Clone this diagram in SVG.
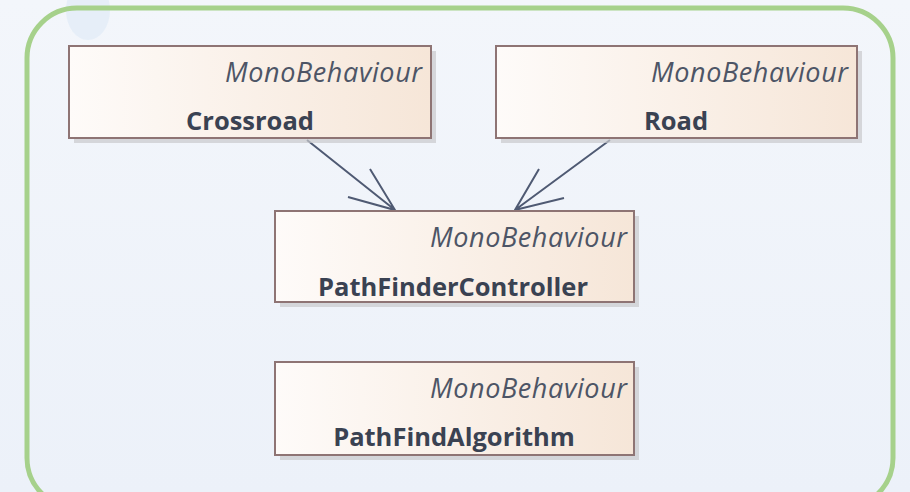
<svg xmlns="http://www.w3.org/2000/svg" width="910" height="492" viewBox="0 0 910 492">
<style>
.box{stroke:#8e7474;stroke-width:2;fill:url(#g)}
.sh{fill:#c9c9cc;opacity:0.7}
.st{font-family:"Open Sans","Noto Sans",sans-serif;font-style:italic;font-size:27px;fill:#4d5566;text-anchor:end}
.nm{font-family:"Open Sans","Noto Sans",sans-serif;font-weight:bold;font-size:25.5px;fill:#3a4252;text-anchor:middle}
.c{stroke:#4f5a73;stroke-width:2;fill:none}
</style>
<defs>
<linearGradient id="g" x1="0" y1="0" x2="1" y2="0">
<stop offset="0" stop-color="#fefbf9"/>
<stop offset="1" stop-color="#f6e6d8"/>
</linearGradient>
<linearGradient id="bg" x1="0" y1="0" x2="0" y2="1">
<stop offset="0" stop-color="#f3f6fb"/>
<stop offset="1" stop-color="#ecf1f9"/>
</linearGradient>
</defs>
<rect width="910" height="492" fill="url(#bg)"/>
<ellipse cx="88" cy="10" rx="22" ry="30" fill="#e2ecf8" opacity="0.8"/>
<rect x="27" y="8" width="866" height="500" rx="50" fill="none" stroke="#a6d18b" stroke-width="5"/>
<g id="connectors">
<path class="c" d="M307 140 L395 210 M370 169 L395 210 L348 197"/>
<path class="c" d="M610 140 L515 210 M539 169 L515 210 L564 198"/>
</g>
<g id="crossroad">
<rect class="sh" x="74" y="51" width="362" height="92"/>
<rect class="box" x="69" y="46" width="362" height="92"/>
<text class="st" x="422" y="82" textLength="197">MonoBehaviour</text>
<text class="nm" x="250" y="130">Crossroad</text>
</g>
<g id="road">
<rect class="sh" x="501" y="51" width="361" height="92"/>
<rect class="box" x="496" y="46" width="361" height="92"/>
<text class="st" x="848" y="82" textLength="197">MonoBehaviour</text>
<text class="nm" x="676" y="130">Road</text>
</g>
<g id="pathfindercontroller">
<rect class="sh" x="280" y="216" width="359" height="91"/>
<rect class="box" x="275" y="211" width="359" height="91"/>
<text class="st" x="627" y="247" textLength="197">MonoBehaviour</text>
<text class="nm" x="453" y="296">PathFinderController</text>
</g>
<g id="pathfindalgorithm">
<rect class="sh" x="280" y="367" width="359" height="93"/>
<rect class="box" x="275" y="362" width="359" height="93"/>
<text class="st" x="627" y="398" textLength="197">MonoBehaviour</text>
<text class="nm" x="454" y="446">PathFindAlgorithm</text>
</g>
</svg>
